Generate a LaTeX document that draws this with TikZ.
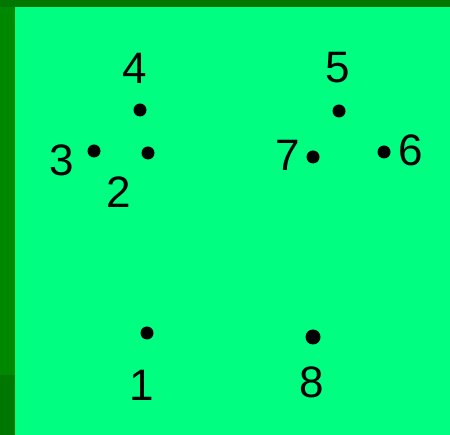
\documentclass[tikz,border=0pt]{standalone}
\usepackage{fontspec}
\setmainfont{Liberation Sans}
\definecolor{darkbg}{RGB}{0,119,0}
\definecolor{sidebar}{RGB}{0,136,0}
\definecolor{panel}{RGB}{0,255,128}
\tikzset{
  pt/.style={circle,fill=black,inner sep=0pt,minimum size=13pt},
  bigpt/.style={circle,fill=black,inner sep=0pt,minimum size=15pt},
  num/.style={inner sep=0pt,font=\fontsize{44}{44}\selectfont}
}
\begin{document}
\begin{tikzpicture}[x=1pt,y=-1pt]
  % background
  \fill[darkbg] (0,0) rectangle (450,435);
  \fill[sidebar] (0,7) rectangle (15,375);
  \fill[panel] (15,7) rectangle (450,435);
  \useasboundingbox (0,0) rectangle (450,435);
  % left group
  \node[pt] (d4) at (140,110) {};
  \node[pt] (d2) at (148,153) {};
  \node[pt] (d3) at (94,151) {};
  \node[num] (l4) at (135,68) {4};
  \node[num] (l3) at (62,160) {3};
  \node[num] (l2) at (119,192) {2};
  % right group
  \node[pt] (d5) at (339,111) {};
  \node[pt] (d7) at (313,157) {};
  \node[pt] (d6) at (384,152) {};
  \node[num] (l5) at (338,68) {5};
  \node[num] (l7) at (288,155) {7};
  \node[num] (l6) at (411,150) {6};
  % bottom
  \node[pt] (d1) at (147,333) {};
  \node[bigpt] (d8) at (313,337) {};
  \node[num] (l1) at (142,385) {1};
  \node[num] (l8) at (312,382) {8};
\end{tikzpicture}
\end{document}
